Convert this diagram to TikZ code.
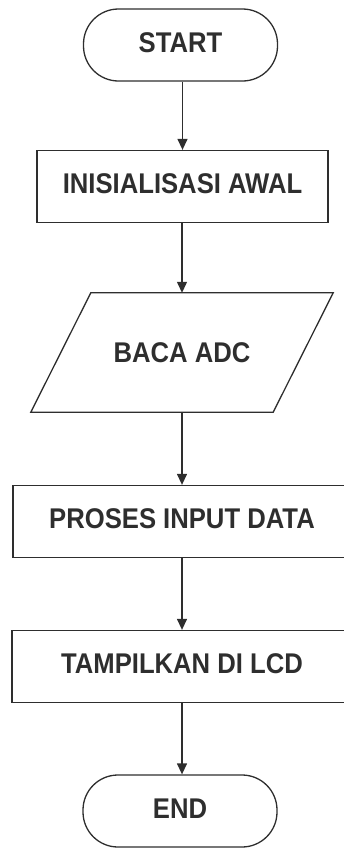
\documentclass[tikz,border=0pt]{standalone}
\usepackage{fontspec}
\setmainfont{Liberation Sans}[FakeStretch=0.9]
\usetikzlibrary{arrows.meta,calc}
\definecolor{ink}{HTML}{2E2E2E}
\tikzset{
  line/.style={draw=ink, line width=1.3pt},
  arr/.style={line, -{Triangle[length=11pt,width=10pt]}},
  lbl/.style={text=ink, font=\fontsize{28.5}{31}\selectfont\bfseries, inner sep=0pt, text depth=5pt},
  term/.style={lbl, line, rounded corners=35pt, minimum width=194pt, minimum height=72pt},
  proc/.style={lbl, line, rectangle, minimum height=72pt},
}
\begin{document}
\begin{tikzpicture}[x=1pt,y=1pt]
\useasboundingbox (0,0) rectangle (343,-849);
\node[term] (start) at (180.5,-45) {START};
\node[proc, minimum width=291pt] (init) at (182.5,-186.5) {INISIALISASI AWAL};
\node[lbl, minimum width=242pt, minimum height=119pt, text depth=0pt] (baca) at (182,-352.5) {BACA ADC};
\draw[line] ($(baca.south west)+(-30,0)$) -- ($(baca.south east)+(-30,0)$)
  -- ($(baca.north east)+(30,0)$) -- ($(baca.north west)+(30,0)$) -- cycle;
\node[proc, minimum width=338pt] (proses) at (182,-521.5) {PROSES INPUT DATA};
\node[proc, minimum width=340pt] (tampil) at (182,-666.5) {TAMPILKAN DI LCD};
\node[term] (end) at (180,-811) {END};
\draw[arr] (init.north |- start.south) -- (init.north);
\draw[arr] (baca.north |- init.south) -- (baca.north);
\draw[arr] (baca.south) -- (proses.north);
\draw[arr] (proses.south) -- (tampil.north);
\draw[arr] (tampil.south) -- (tampil.south |- end.north);
\end{tikzpicture}
\end{document}
